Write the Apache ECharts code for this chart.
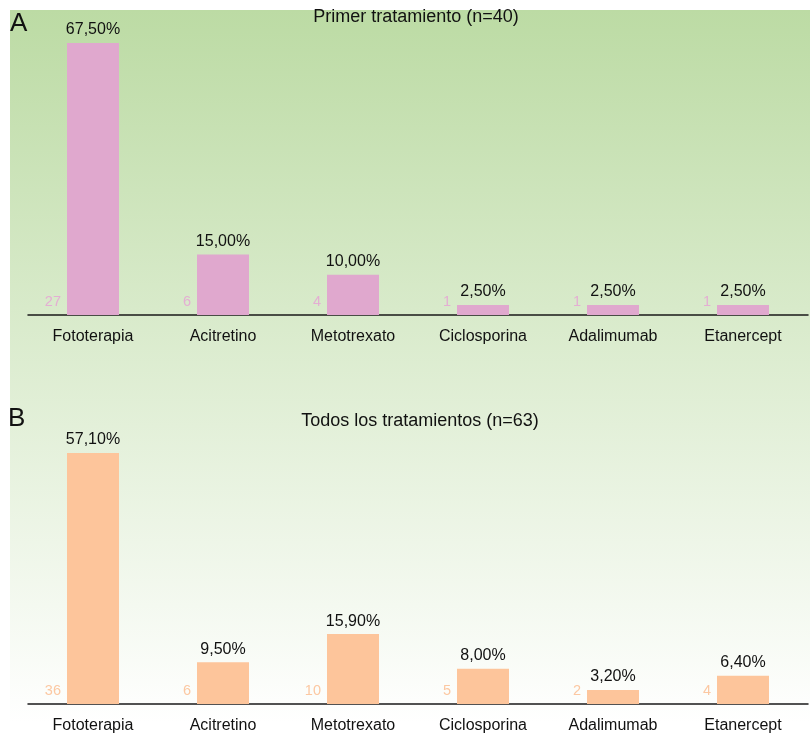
<!DOCTYPE html>
<html>
<head>
<meta charset="utf-8">
<script src="https://cdn.jsdelivr.net/npm/echarts@6/dist/echarts.min.js"></script>
<style>
html,body{margin:0;padding:0;background:#fff;}
#chart{width:811px;height:738px;}
</style>
</head>
<body>
<div id="chart"></div>
<script>
var categories = ['Fototerapia', 'Acitretino', 'Metotrexato', 'Ciclosporina', 'Adalimumab', 'Etanercept'];
var pctFirst = [67.5, 15.0, 10.0, 2.5, 2.5, 2.5];
var countFirst = [27, 6, 4, 1, 1, 1];
var pctAll = [57.1, 9.5, 15.9, 8.0, 3.2, 6.4];
var countAll = [36, 6, 10, 5, 2, 4];
var titleA = 'Primer tratamiento (n=40)';
var titleB = 'Todos los tratamientos (n=63)';

var FONT = '"Liberation Sans", Arial, Helvetica, sans-serif';
var chart = echarts.init(document.getElementById('chart'), null, {renderer: 'canvas'});

function fmtPct(p) { return p.value.toFixed(2).replace('.', ',') + '%'; }

function xAxisFor(idx) {
  return {
    type: 'category', gridIndex: idx, data: categories,
    axisTick: {show: false},
    axisLine: {lineStyle: {color: '#1a1a1a', width: 1.5}},
    axisLabel: {color: '#111', fontSize: 16, fontFamily: FONT, margin: 14, interval: 0}
  };
}
function yAxisFor(idx) {
  return {
    type: 'value', gridIndex: idx, min: 0, max: function (v) { return v.max; },
    show: false, splitLine: {show: false}
  };
}
function mainSeries(idx, data, color) {
  return {
    type: 'bar', xAxisIndex: idx, yAxisIndex: idx, data: data,
    barWidth: '40%', itemStyle: {color: color},
    label: {show: true, position: 'top', distance: 5, color: '#111', fontSize: 16, fontFamily: FONT, formatter: fmtPct},
    silent: true, z: 2
  };
}
function countSeries(idx, data, counts, color) {
  return {
    type: 'bar', xAxisIndex: idx, yAxisIndex: idx, data: data,
    barWidth: '40%', barGap: '-100%', itemStyle: {color: 'rgba(0,0,0,0)'},
    label: {
      show: true, position: [-6, '100%'], align: 'right', verticalAlign: 'bottom', offset: [0, -6],
      color: color, fontSize: 14.5, fontFamily: FONT,
      formatter: function (p) { return String(counts[p.dataIndex]); }
    },
    silent: true, z: 3
  };
}

var option = {
  animation: false,
  graphic: [
    {type: 'rect', shape: {x: 10, y: 10, width: 800, height: 713}, z: -10, silent: true,
     style: {fill: new echarts.graphic.LinearGradient(0, 0, 0, 1, [
       {offset: 0, color: '#bcdba4'}, {offset: 1, color: '#ffffff'}])}},
    {type: 'text', x: 10, y: 24, style: {text: 'A', font: '26px ' + FONT, fill: '#111', textVerticalAlign: 'middle'}},
    {type: 'text', x: 8, y: 419, style: {text: 'B', font: '26px ' + FONT, fill: '#111', textVerticalAlign: 'middle'}},
    {type: 'text', x: 416, y: 17, style: {text: titleA, font: '18px ' + FONT, fill: '#111', textAlign: 'center', textVerticalAlign: 'middle'}},
    {type: 'text', x: 420, y: 421, style: {text: titleB, font: '18px ' + FONT, fill: '#111', textAlign: 'center', textVerticalAlign: 'middle'}}
  ],
  grid: [
    {left: 28, right: 3, top: 43, bottom: 423},
    {left: 28, right: 3, top: 453, bottom: 34}
  ],
  xAxis: [xAxisFor(0), xAxisFor(1)],
  yAxis: [yAxisFor(0), yAxisFor(1)],
  series: [
    mainSeries(0, pctFirst, '#e0a8ce'),
    countSeries(0, pctFirst, countFirst, '#e4aed3'),
    mainSeries(1, pctAll, '#fdc59b'),
    countSeries(1, pctAll, countAll, '#fcc8a2')
  ]
};
chart.setOption(option);
</script>
</body>
</html>
